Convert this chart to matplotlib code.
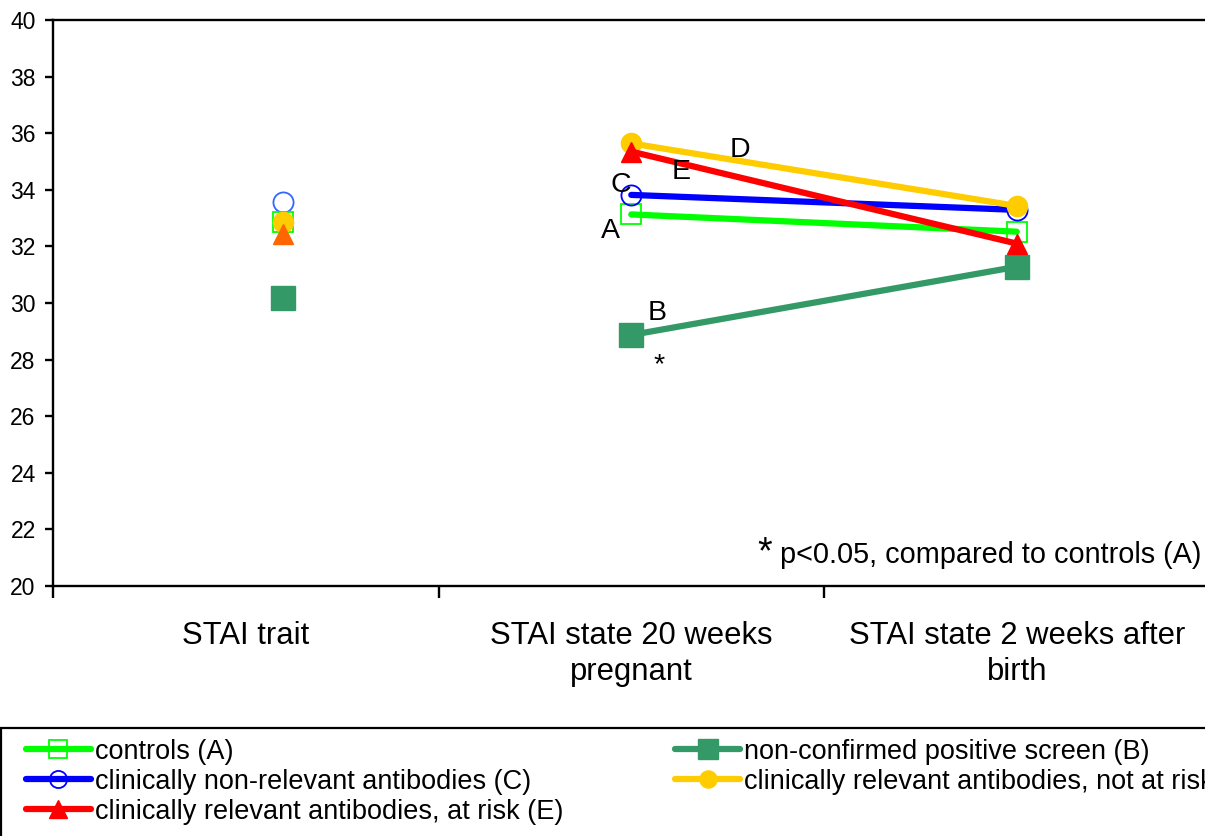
import matplotlib
matplotlib.use("Agg")
import matplotlib.pyplot as plt
from matplotlib.lines import Line2D
from matplotlib.patches import Rectangle

plt.rcParams['font.family'] = ['Liberation Sans', 'DejaVu Sans']

# ---- data ----
categories = ["STAI trait", "STAI state 20 weeks\npregnant", "STAI state 2 weeks after\nbirth"]
series_names = ["controls (A)", "non-confirmed positive screen (B)",
                "clinically non-relevant antibodies (C)",
                "clinically relevant antibodies, not at risk (D)",
                "clinically relevant antibodies, at risk (E)"]
trait_A = 32.87
trait_B = 30.17
trait_C = 33.58
trait_D = 32.87
trait_E = 32.45
state_A = [33.13, 32.52]
state_B = [28.87, 31.28]
state_C = [33.82, 33.29]
state_D = [35.64, 33.43]
state_E = [35.35, 32.10]
letters = ["A", "B", "C", "D", "E"]
letter_pos = [(0.945, 32.54), (1.067, 29.65), (0.973, 34.17), (1.282, 35.41), (1.129, 34.63)]
yticks = list(range(20, 41, 2))

# ---- styles ----
cA, cB, cC, cD, cE = "#00FF00", "#339966", "#0000FF", "#FFCC00", "#FF0000"
cC_t, cE_t = "#3366FF", "#FF6600"
lw = 4.5

W, H = 1205, 836
fig = plt.figure(figsize=(W / 100, H / 100), dpi=100)
ax = fig.add_axes([53 / W, 1 - 586 / H, (1209.5 - 53) / W, (586 - 20) / H])

trait_x = 0.096
state_x = [1, 2]

# trait markers
ax.plot([trait_x], [trait_C], marker='o', ms=14.5, mfc='none', mec=cC_t, mew=1.3, ls='none', zorder=3)
ax.plot([trait_x], [trait_A], marker='s', ms=14.5, mfc='none', mec=cA, mew=1.3, ls='none', zorder=3)
ax.plot([trait_x], [trait_D], marker='o', ms=14.5, mfc=cD, mec=cD, ls='none', zorder=3)
ax.plot([trait_x], [trait_E], marker='^', ms=15, mfc=cE_t, mec=cE_t, ls='none', zorder=3)
ax.plot([trait_x], [trait_B], marker='s', ms=17, mfc=cB, mec=cB, ls='none', zorder=3)

# state lines
hA, = ax.plot(state_x, state_A, color=cA, lw=lw, marker='s', ms=14.5, mfc='none', mec=cA, mew=1.3,
              solid_capstyle='round', zorder=3)
hB, = ax.plot(state_x, state_B, color=cB, lw=lw, marker='s', ms=17, mfc=cB, mec=cB,
              solid_capstyle='round', zorder=3)
hC, = ax.plot(state_x, state_C, color=cC, lw=lw, marker='o', ms=14.5, mfc='none', mec=cC, mew=1.3,
              solid_capstyle='round', zorder=3)
hD, = ax.plot(state_x, state_D, color=cD, lw=lw, marker='o', ms=14.5, mfc=cD, mec=cD,
              solid_capstyle='round', zorder=3)
hE, = ax.plot(state_x, state_E, color=cE, lw=lw, marker='^', ms=15, mfc=cE, mec=cE,
              solid_capstyle='round', zorder=3)

for lt, (lx, ly) in zip(letters, letter_pos):
    ax.text(lx, ly, lt, fontsize=20.5, ha='center', va='center', zorder=4)
ax.text(1.072, 27.56, "*", fontsize=20.5, ha='center', va='baseline')

ax.text(1.326, 20.81, "*", fontsize=27, ha='left', va='baseline')
ax.text(1.386, 20.81, "p<0.05, compared to controls (A)", fontsize=20.8, ha='left', va='baseline')

# axes
ax.set_xlim(-0.5, 2.5)
ax.set_ylim(20, 40)
ax.set_yticks(yticks)
ax.set_xticks([-0.5, 0.5, 1.5, 2.5])
ax.set_xticklabels([])
ax.set_xticks([0, 1, 2], minor=True)
ax.set_xticklabels(categories, minor=True, fontsize=22.3, linespacing=1.27)
ax.tick_params(axis='x', which='minor', length=0, pad=25)
ax.tick_params(axis='x', which='major', direction='out', length=8.5, width=1.7)
ax.tick_params(axis='y', direction='out', length=5.5, width=1.7, labelsize=16.5, pad=7)
for s in ax.spines.values():
    s.set_linewidth(1.7)
ax.spines['right'].set_visible(False)

# legend
handles = [hA, hC, hE, hB, hD]
labels = [series_names[0], series_names[2], series_names[4], series_names[1], series_names[3]]
leg = fig.legend(handles, labels, ncol=2, loc='upper left', bbox_to_anchor=(12 / W, 1 - 725 / H),
                 frameon=False, fontsize=19.5, handlelength=2.4, handletextpad=0.15,
                 labelspacing=0.15, columnspacing=4.15, borderpad=0, markerscale=0.85)
fig.patches.append(Rectangle((1 / W, -0.05), 1.1, (836 - 728) / H + 0.05, transform=fig.transFigure,
                             fill=False, edgecolor='black', linewidth=1.6, clip_on=False))

fig.savefig("out.png", dpi=100)
